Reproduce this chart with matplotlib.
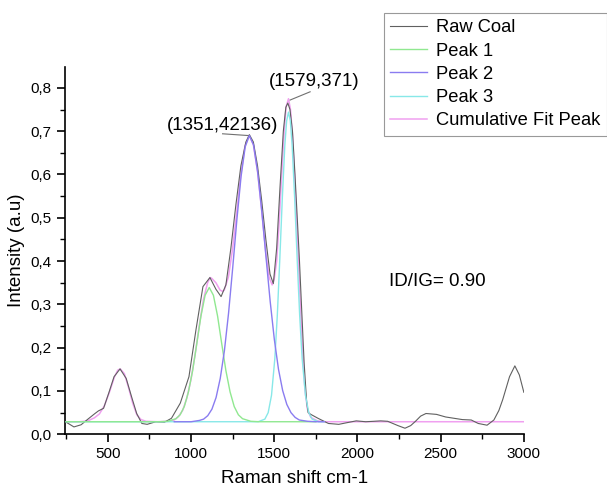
import matplotlib.pyplot as plt
from matplotlib.ticker import MultipleLocator, FuncFormatter

# Espectro Raman do carvao
raw_x = [250, 297, 340, 381, 420, 444, 475, 506, 538, 574, 611, 643, 674, 705, 737, 789, 841, 883,
         936, 988, 1030, 1072, 1114, 1150, 1181, 1210, 1240, 1270, 1300, 1330, 1351, 1375, 1400,
         1425, 1450, 1475, 1495, 1515, 1535, 1555, 1570, 1582, 1595, 1610, 1625, 1640, 1652, 1665,
         1680, 1695, 1704, 1720, 1763, 1826, 1888, 1940, 1993, 2050, 2098, 2140, 2182, 2244, 2286,
         2320, 2349, 2380, 2412, 2475, 2530, 2580, 2630, 2684, 2726, 2779, 2820, 2850, 2873, 2914,
         2946, 2973, 3000]
raw_y = [0.028, 0.017, 0.022, 0.035, 0.047, 0.054, 0.060, 0.095, 0.133, 0.151, 0.129, 0.087, 0.048,
         0.025, 0.023, 0.029, 0.028, 0.037, 0.072, 0.133, 0.241, 0.341, 0.362, 0.335, 0.318, 0.345,
         0.430, 0.530, 0.620, 0.675, 0.692, 0.675, 0.620, 0.540, 0.450, 0.370, 0.348, 0.430, 0.570,
         0.700, 0.755, 0.765, 0.750, 0.700, 0.600, 0.490, 0.400, 0.290, 0.165, 0.075, 0.050, 0.046,
         0.037, 0.025, 0.023, 0.027, 0.031, 0.029, 0.030, 0.031, 0.030, 0.020, 0.014, 0.020, 0.030,
         0.042, 0.048, 0.046, 0.040, 0.037, 0.034, 0.033, 0.025, 0.021, 0.033, 0.055, 0.080, 0.133,
         0.158, 0.137, 0.097]

# Peak 1 (verde)
p1_x = [250, 810, 860, 910, 935, 960, 985, 1010, 1035, 1060, 1085, 1110, 1135, 1160, 1185, 1210,
        1235, 1260, 1285, 1310, 1360, 1410, 1750]
p1_y = [0.029, 0.029, 0.030, 0.036, 0.045, 0.064, 0.098, 0.147, 0.209, 0.273, 0.321, 0.339, 0.321,
        0.273, 0.209, 0.147, 0.098, 0.064, 0.045, 0.036, 0.030, 0.029, 0.029]

# Peak 2 (azul)
p2_x = [900, 1001, 1051, 1076, 1101, 1126, 1151, 1176, 1201, 1226, 1251, 1276, 1301, 1326, 1351,
        1376, 1401, 1426, 1451, 1476, 1501, 1526, 1551, 1576, 1601, 1626, 1651, 1701, 1751, 1800]
p2_y = [0.029, 0.029, 0.032, 0.035, 0.043, 0.058, 0.085, 0.129, 0.193, 0.280, 0.385, 0.496, 0.595,
        0.664, 0.690, 0.668, 0.605, 0.513, 0.409, 0.307, 0.219, 0.150, 0.101, 0.069, 0.050, 0.039,
        0.033, 0.030, 0.029, 0.029]

# Peak 3 (ciano)
p3_x = [250, 1404, 1444, 1464, 1484, 1504, 1519, 1534, 1549, 1564, 1575, 1586, 1597, 1608, 1623,
        1638, 1653, 1668, 1688, 1708, 1728, 1768, 1800]
p3_y = [0.029, 0.029, 0.035, 0.050, 0.090, 0.175, 0.276, 0.406, 0.546, 0.667, 0.724, 0.744, 0.724,
        0.667, 0.546, 0.406, 0.276, 0.175, 0.090, 0.050, 0.035, 0.029, 0.029]

# Cumulative fit (rosa)
cum_x = [250, 330, 380, 420, 450, 480, 510, 540, 560, 575, 600, 625, 650, 675, 700, 730, 800, 860,
         900, 925, 950, 975, 1000, 1025, 1050, 1075, 1100, 1115, 1125, 1150, 1175, 1190, 1200, 1225,
         1250, 1275, 1300, 1325, 1350, 1375, 1400, 1425, 1450, 1470, 1488, 1500, 1515, 1530, 1545,
         1560, 1572, 1586, 1598, 1610, 1625, 1640, 1655, 1670, 1685, 1700, 1720, 1760, 1800, 3000]
cum_y = [0.029, 0.029, 0.031, 0.038, 0.047, 0.066, 0.097, 0.132, 0.148, 0.151, 0.140, 0.108, 0.072,
         0.045, 0.034, 0.030, 0.029, 0.030, 0.033, 0.041, 0.055, 0.083, 0.126, 0.184, 0.251, 0.311,
         0.350, 0.362, 0.360, 0.350, 0.333, 0.330, 0.333, 0.363, 0.428, 0.513, 0.601, 0.666, 0.690,
         0.669, 0.607, 0.517, 0.418, 0.362, 0.345, 0.358, 0.400, 0.490, 0.600, 0.700, 0.757, 0.775,
         0.750, 0.690, 0.580, 0.450, 0.320, 0.195, 0.102, 0.058, 0.039, 0.031, 0.029, 0.029]

series_labels = ["Raw Coal", "Peak 1", "Peak 2", "Peak 3", "Cumulative Fit Peak"]

plt.rcParams['font.family'] = ['Liberation Sans', 'DejaVu Sans']

fig = plt.figure(figsize=(6.07, 4.91), dpi=100)
ax = fig.add_axes([0.107, 0.1155, 0.756, 0.7487])

l_raw, = ax.plot(raw_x, raw_y, color="#606060", lw=0.8, zorder=3)
l_cum, = ax.plot(cum_x, cum_y, color="#f0a0f0", lw=1.1, zorder=2)
l_p3, = ax.plot(p3_x, p3_y, color="#88e8e8", lw=1.0, zorder=4)
l_p1, = ax.plot(p1_x, p1_y, color="#90e890", lw=1.0, zorder=4)
l_p2, = ax.plot(p2_x, p2_y, color="#8a7cf0", lw=1.0, zorder=5)

ax.set_xlim(243, 3000)
ax.set_ylim(0, 0.849)

ax.spines['top'].set_visible(False)
ax.spines['right'].set_visible(False)
ax.spines['left'].set_linewidth(1.2)
ax.spines['bottom'].set_linewidth(1.2)

ax.xaxis.set_major_locator(MultipleLocator(500))
ax.xaxis.set_minor_locator(MultipleLocator(250))
ax.yaxis.set_major_locator(MultipleLocator(0.1))
ax.yaxis.set_minor_locator(MultipleLocator(0.05))
ax.yaxis.set_major_formatter(FuncFormatter(lambda v, p: f"{v:.1f}".replace(".", ",")))
ax.tick_params(which='major', direction='out', length=6, width=1.2, labelsize=11)
ax.tick_params(which='minor', direction='out', length=3.5, width=1.0)

ax.set_xlabel("Raman shift cm-1", fontsize=13.5, labelpad=6)
ax.set_ylabel("Intensity (a.u)", fontsize=13.5, labelpad=4)

# anotacoes dos picos D e G
ax.text(1187, 0.714, "(1351,42136)", fontsize=13.5, ha='center', va='center')
ax.plot([1190, 1343], [0.694, 0.690], color="#707070", lw=0.8)
ax.text(1740, 0.814, "(1579,371)", fontsize=13.5, ha='center', va='center')
ax.plot([1716, 1596], [0.791, 0.772], color="#707070", lw=0.8)

ax.text(2190, 0.352, "ID/IG= 0.90", fontsize=13.5, ha='left', va='center')

leg = fig.legend([l_raw, l_p1, l_p2, l_p3, l_cum], series_labels,
                 loc='upper left', bbox_to_anchor=(384 / 607, 1 - 13 / 491),
                 bbox_transform=fig.transFigure, fontsize=13.2, frameon=True, fancybox=False,
                 handlelength=2.0, handletextpad=0.5, borderpad=0.35, labelspacing=0.34,
                 borderaxespad=0)
leg.get_frame().set_edgecolor("#808080")
leg.get_frame().set_linewidth(0.8)

fig.savefig("out.png", dpi=100)
